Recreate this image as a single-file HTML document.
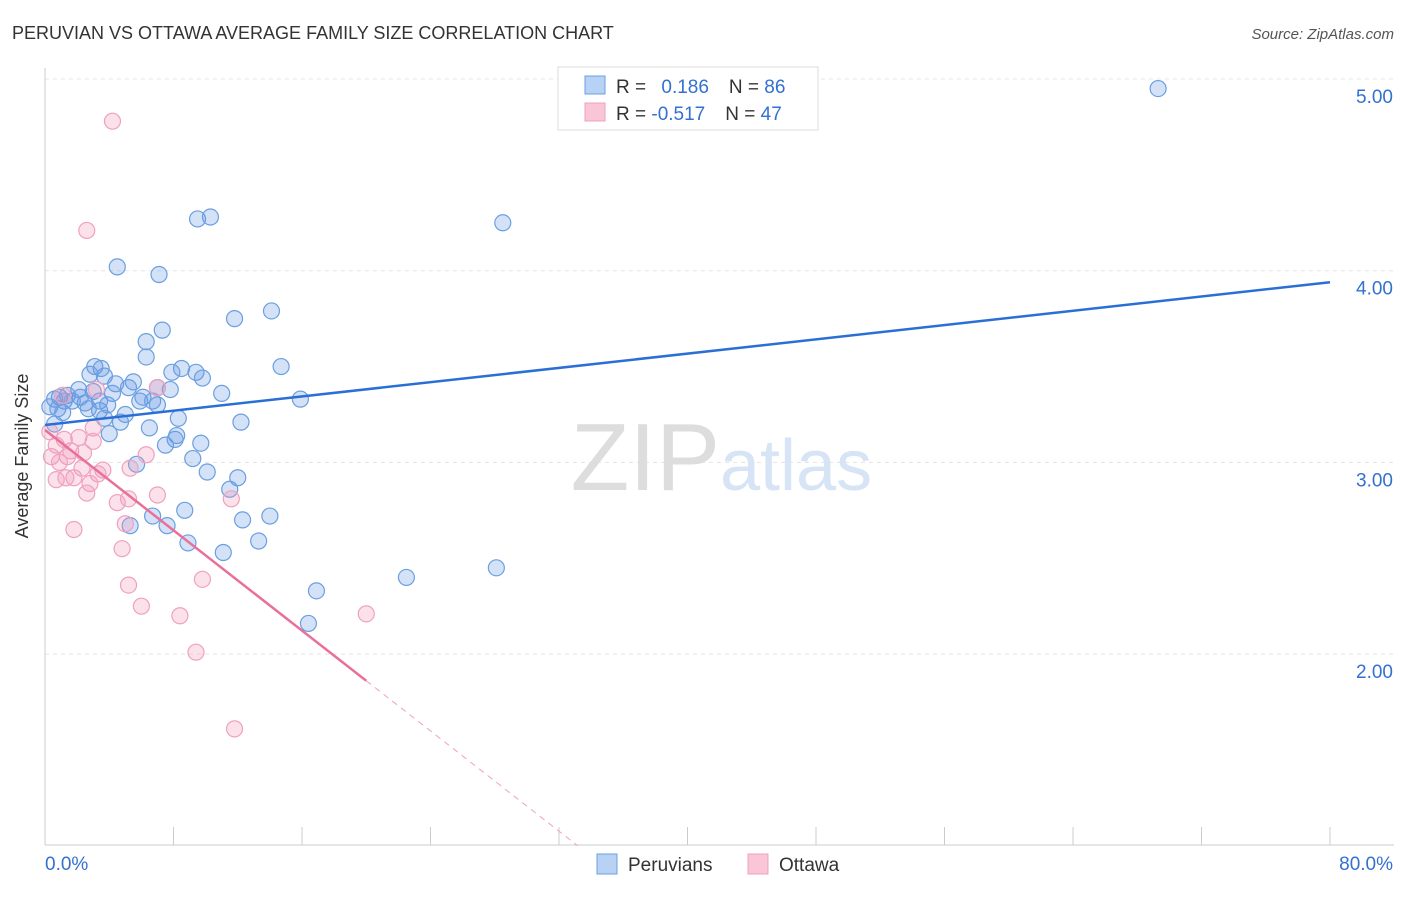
<!DOCTYPE html>
<html><head><meta charset="utf-8"><style>
body{margin:0;background:#fff;font-family:"Liberation Sans",sans-serif;}
svg text{font-family:"Liberation Sans",sans-serif;}
</style></head><body>
<svg width="1406" height="892" viewBox="0 0 1406 892">
<text x="12" y="39" font-size="18" fill="#333">PERUVIAN VS OTTAWA AVERAGE FAMILY SIZE CORRELATION CHART</text>
<text x="1394" y="39" font-size="15" fill="#555" font-style="italic" text-anchor="end">Source: ZipAtlas.com</text>
<g id="grid"></g>
<g id="axes"></g>
<text x="720" y="490" font-size="96" fill="#ddd" font-family="Liberation Serif" text-anchor="end">ZIP</text>
<text x="720" y="490" font-size="72" fill="#d6e4f5">atlas</text>
<g id="pts"></g>
<g id="lines"></g>
<text x="28" y="456" font-size="18" fill="#333" text-anchor="middle" transform="rotate(-90 28 456)">Average Family Size</text>
<g>
<rect x="558" y="67" width="260" height="63" fill="#fff" stroke="#ddd"/>
<rect x="585" y="76" width="20" height="18" fill="#b8d2f5" stroke="#6a9fe0"/>
<rect x="585" y="103" width="20" height="18" fill="#f8c6d6" stroke="#f0a0c0"/>
<text x="616" y="93" font-size="19" fill="#333">R = <tspan fill="#3370d0" dx="10">0.186</tspan><tspan dx="20" fill="#333">N = </tspan><tspan fill="#3370d0">86</tspan></text>
<text x="616" y="120" font-size="19" fill="#333">R = <tspan fill="#3370d0">-0.517</tspan><tspan dx="20" fill="#333">N = </tspan><tspan fill="#3370d0">47</tspan></text>
</g>
<g>
<rect x="597" y="854" width="20" height="20" fill="#b8d2f5" stroke="#6a9fe0"/>
<text x="628" y="871" font-size="19" fill="#333">Peruvians</text>
<rect x="748" y="854" width="20" height="20" fill="#f8c6d6" stroke="#f0a0c0"/>
<text x="779" y="871" font-size="19" fill="#333">Ottawa</text>
</g>
<text x="45" y="870" font-size="19" fill="#3370d0">0.0%</text>
<text x="1393" y="870" font-size="19" fill="#3370d0" text-anchor="end">80.0%</text>
</svg>
<script>
const yTicks=[2,3,4,5];
const yTickLabels=["2.00","3.00","4.00","5.00"];
const blueX=[69.3,9.5,10.3,28.5,4.5,7.1,14.1,11.8,7.3,6.3,6.3,14.7,3.1,3.5,8.5,9.4,7.9,2.8,3.7,9.8,5.5,4.4,7.0,7.8,2.1,3.0,5.2,11.0,4.2,0.9,1.4,2.2,0.6,1.2,1.7,2.5,3.4,5.9,6.7,15.9,6.1,0.3,0.8,2.7,3.4,3.9,1.1,7.0,5.0,3.7,8.3,4.7,12.2,0.6,6.5,4.0,8.2,8.1,9.7,7.5,9.2,5.7,10.1,12.0,11.5,6.7,8.7,12.3,14.0,5.3,7.6,8.9,13.3,11.1,28.1,22.5,16.9,16.4];
const blueY=[4.95,4.27,4.28,4.25,4.02,3.98,3.79,3.75,3.69,3.63,3.55,3.50,3.50,3.49,3.49,3.47,3.47,3.46,3.45,3.44,3.42,3.41,3.39,3.38,3.38,3.37,3.39,3.36,3.36,3.34,3.35,3.34,3.33,3.32,3.32,3.31,3.32,3.32,3.32,3.33,3.34,3.29,3.28,3.28,3.27,3.30,3.26,3.30,3.25,3.23,3.23,3.21,3.21,3.20,3.18,3.15,3.14,3.12,3.10,3.09,3.02,2.99,2.95,2.92,2.86,2.72,2.75,2.70,2.72,2.67,2.67,2.58,2.59,2.53,2.45,2.40,2.33,2.16];
const pinkX=[4.2,2.6,3.2,7.0,1.1,3.0,0.3,1.2,2.1,3.0,0.7,1.6,2.4,6.3,0.4,1.4,0.9,2.3,3.6,5.3,3.3,0.7,1.8,1.3,2.8,2.6,7.0,5.2,4.5,11.6,5.0,1.8,4.8,5.2,9.8,6.0,8.4,20.0,9.4,11.8];
const pinkY=[4.78,4.21,3.38,3.39,3.35,3.18,3.16,3.12,3.13,3.11,3.09,3.06,3.05,3.04,3.03,3.03,3.00,2.97,2.96,2.97,2.94,2.91,2.92,2.92,2.89,2.84,2.83,2.81,2.79,2.81,2.68,2.65,2.55,2.36,2.39,2.25,2.20,2.21,2.01,1.61];
const blueTrend=[3.195,3.94];
const pinkTrend=[3.169,-0.0654];
const NS="http://www.w3.org/2000/svg";
const sx=v=>45+v/80*1285, sy=v=>79+(5-v)*191.7;
function mk(t,a,p){const e=document.createElementNS(NS,t);for(const k in a)e.setAttribute(k,a[k]);p.appendChild(e);return e;}
const grid=document.getElementById('grid'),axes=document.getElementById('axes');
yTicks.forEach((v,i)=>{
 const l=mk('line',{x1:45,x2:1394,y1:sy(v),y2:sy(v),stroke:'#e4e4e4','stroke-dasharray':'4,4'},grid);
 
 
 const t=mk('text',{x:1393,y:sy(v)+24,'font-size':19,fill:'#3370d0','text-anchor':'end'},axes);
 t.textContent=yTickLabels[i];
 
 
});
mk('line',{x1:45,x2:45,y1:68,y2:845,stroke:'#ccc'},axes);
mk('line',{x1:45,x2:1394,y1:845,y2:845,stroke:'#ccc'},axes);
for(let i=0;i<=10;i++){const tk=mk('line',{x1:sx(i*8),x2:sx(i*8),y1:827,y2:845,stroke:'#ccc'},axes);
 
 }
const pts=document.getElementById('pts');
blueX.forEach((x,i)=>{const c=mk('circle',{cx:sx(x),cy:sy(blueY[i]),r:8,fill:'rgba(100,150,230,0.28)',stroke:'#6a9fe0','stroke-width':1.2},pts);
 
 });
pinkX.forEach((x,i)=>{const c=mk('circle',{cx:sx(x),cy:sy(pinkY[i]),r:8,fill:'rgba(240,150,180,0.28)',stroke:'#f0a0c0','stroke-width':1.2},pts);
 
 });
const lines=document.getElementById('lines');
const b=mk('line',{x1:sx(0),y1:sy(blueTrend[0]),x2:sx(80),y2:sy(blueTrend[1]),stroke:'#2a6fd6','stroke-width':2.5},lines);


const pe=20, pz=(pinkTrend[0]-1)/-pinkTrend[1];
const p1=mk('line',{x1:sx(0),y1:sy(pinkTrend[0]),x2:sx(pe),y2:sy(pinkTrend[0]+pinkTrend[1]*pe),stroke:'#e8709a','stroke-width':2.5},lines);


const p2=mk('line',{x1:sx(pe),y1:sy(pinkTrend[0]+pinkTrend[1]*pe),x2:sx(pz),y2:sy(1),stroke:'#f0a0c0','stroke-width':1,'stroke-dasharray':'6,5'},lines);


</script>
</body></html>
